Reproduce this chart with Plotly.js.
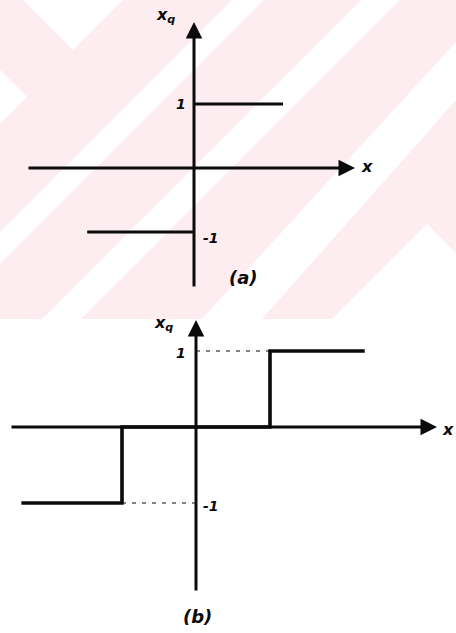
<!DOCTYPE html>
<html>
<head>
<meta charset="utf-8">
<script src="https://cdn.plot.ly/plotly-3.0.1.min.js"></script>
<style>
  html, body { margin: 0; padding: 0; background: #ffffff; }
  #chart { width: 456px; height: 633px; }
</style>
</head>
<body>
<div id="chart"></div>
<script>
// (a) two-level quantizer: x_q = -1 for x < 0, +1 for x > 0
const levelsA = [-1, 1];
const negStepAx = [-1.2, 0];
const negStepAy = [-1, -1];
const posStepAx = [0, 1.0];
const posStepAy = [1, 1];

// (b) three-level quantizer with thresholds at +/-0.5
const stepBx = [-1.18, -0.5, -0.5, 0.5, 0.5, 1.14];
const stepBy = [-1, -1, 0, 0, 1, 1];
const guideUpBx = [0, 0.5];
const guideUpBy = [1, 1];
const guideDnBx = [-0.5, 0];
const guideDnBy = [-1, -1];
const levelsB = [-1, 1];
const tickText = { '1': '1', '-1': '-1' };

const W = 456, H = 633;
const splitPx = 319;                 // boundary between the two panels
const ink = '#0b0b0b';
const handFont = { family: 'DejaVu Sans', size: 14, color: ink, weight: 'bold', style: 'italic' };

// panel (a) axes: pixel origin (194,168), 89 px per x unit, 64 px per y unit
const axA = { ox: 194, oy: 168, sx: 89, sy: 64 };
// panel (b) axes: pixel origin (196,427), 148 px per x unit, 76 px per y unit
const axB = { ox: 196, oy: 427, sx: 148, sy: 76 };

function xr(a) { return [-a.ox / a.sx, (W - a.ox) / a.sx]; }

const layout = {
  width: W, height: H,
  margin: { l: 0, r: 0, t: 0, b: 0, pad: 0 },
  paper_bgcolor: '#ffffff',
  plot_bgcolor: 'rgba(0,0,0,0)',
  showlegend: false,
  xaxis:  { domain: [0, 1], range: xr(axA), visible: false, fixedrange: true },
  yaxis:  { domain: [1 - splitPx / H, 1], range: [(axA.oy - splitPx) / axA.sy, axA.oy / axA.sy], visible: false, fixedrange: true },
  xaxis2: { domain: [0, 1], range: xr(axB), visible: false, fixedrange: true, anchor: 'y2' },
  yaxis2: { domain: [0, 1 - splitPx / H], range: [(axB.oy - H) / axB.sy, (axB.oy - splitPx) / axB.sy], visible: false, fixedrange: true, anchor: 'x2' },
  shapes: [],
  annotations: []
};

// pale pink paper with white diagonal bands behind panel (a)
function pxPath(pts) {
  return pts.map((p, i) => (i ? 'L' : 'M') + (p[0] / W).toFixed(4) + ',' + (1 - p[1] / H).toFixed(4)).join(' ') + ' Z';
}
layout.shapes.push({ type: 'rect', xref: 'paper', yref: 'paper', x0: 0, x1: 1, y0: 1 - splitPx / H, y1: 1,
  fillcolor: '#fdecf0', line: { width: 0 }, layer: 'below' });
const bands = [
  [[23, 0], [123, 0], [73, 50]],
  [[0, 70], [27, 97], [0, 124]],
  [[232, 0], [264, 0], [0, 264], [0, 232]],
  [[361, 0], [400, 0], [81, 319], [42, 319]],
  [[456, 42], [456, 100], [262, 319], [202, 319]],
  [[427, 224], [332, 319], [456, 319], [456, 253]]
];
bands.forEach(b => layout.shapes.push({ type: 'path', xref: 'paper', yref: 'paper', path: pxPath(b),
  fillcolor: '#ffffff', line: { width: 0 }, layer: 'below' }));

// axis arrows drawn as annotation arrows in data coordinates
function arrow(xa, ya, x0, y0, x1, y1) {
  layout.annotations.push({ xref: xa, yref: ya, axref: xa, ayref: ya, x: x1, y: y1, ax: x0, ay: y0,
    text: '', showarrow: true, arrowhead: 2, arrowsize: 1.1, arrowwidth: 3, arrowcolor: ink });
}
// panel (a)
arrow('x', 'y', -167 / axA.sx, 0, 161 / axA.sx, 0);
arrow('x', 'y', 0, -120 / axA.sy, 0, 146 / axA.sy);
// panel (b)
arrow('x2', 'y2', -186 / axB.sx, 0, 241 / axB.sx, 0);
arrow('x2', 'y2', 0, -165 / axB.sy, 0, 107 / axB.sy);

function label(xa, ya, x, y, text, opts) {
  layout.annotations.push(Object.assign({ xref: xa, yref: ya, x: x, y: y, text: text, showarrow: false,
    font: handFont, xanchor: 'center', yanchor: 'middle' }, opts || {}));
}

// tick labels on the x_q axis
levelsA.forEach(v => {
  const t = tickText[String(v)];
  if (v > 0) label('x', 'y', 0, v, t, { xanchor: 'right', xshift: -6 });
  else label('x', 'y', 0, v, t, { xanchor: 'left', xshift: 7, yshift: -6 });
});
levelsB.forEach(v => {
  const t = tickText[String(v)];
  if (v > 0) label('x2', 'y2', 0, v, t, { xanchor: 'right', xshift: -8, yshift: -2 });
  else label('x2', 'y2', 0, v, t, { xanchor: 'left', xshift: 5, yshift: -3 });
});

// axis names and panel captions
const nameFont = Object.assign({}, handFont, { size: 16 });
label('x', 'y', -29 / axA.sx, 153 / axA.sy, 'x<sub>q</sub>', { font: nameFont });
label('x', 'y', 173 / axA.sx, 2 / axA.sy, 'x', { font: nameFont });
label('x', 'y', 49 / axA.sx, -109 / axA.sy, '(a)', { font: Object.assign({}, handFont, { size: 18 }) });
label('x2', 'y2', -33 / axB.sx, 104 / axB.sy, 'x<sub>q</sub>', { font: nameFont });
label('x2', 'y2', 260 / axB.sx, -2 / axB.sy, 'x', { font: nameFont, xanchor: 'right' });
label('x2', 'y2', 1 / axB.sx, -189 / axB.sy, '(b)', { font: Object.assign({}, handFont, { size: 18 }) });

const solid = { color: ink, width: 3.2 };
const data = [
  { x: negStepAx, y: negStepAy, xaxis: 'x', yaxis: 'y', mode: 'lines', line: solid, hoverinfo: 'skip' },
  { x: posStepAx, y: posStepAy, xaxis: 'x', yaxis: 'y', mode: 'lines', line: solid, hoverinfo: 'skip' },
  { x: guideUpBx, y: guideUpBy, xaxis: 'x2', yaxis: 'y2', mode: 'lines', line: { color: ink, width: 1.2, dash: '4px,6px' }, hoverinfo: 'skip' },
  { x: guideDnBx, y: guideDnBy, xaxis: 'x2', yaxis: 'y2', mode: 'lines', line: { color: ink, width: 1.2, dash: '4px,6px' }, hoverinfo: 'skip' },
  { x: stepBx, y: stepBy, xaxis: 'x2', yaxis: 'y2', mode: 'lines', line: { color: ink, width: 3.6 }, hoverinfo: 'skip' }
];

Plotly.newPlot('chart', data, layout, { displayModeBar: false, staticPlot: true });
</script>
</body>
</html>
